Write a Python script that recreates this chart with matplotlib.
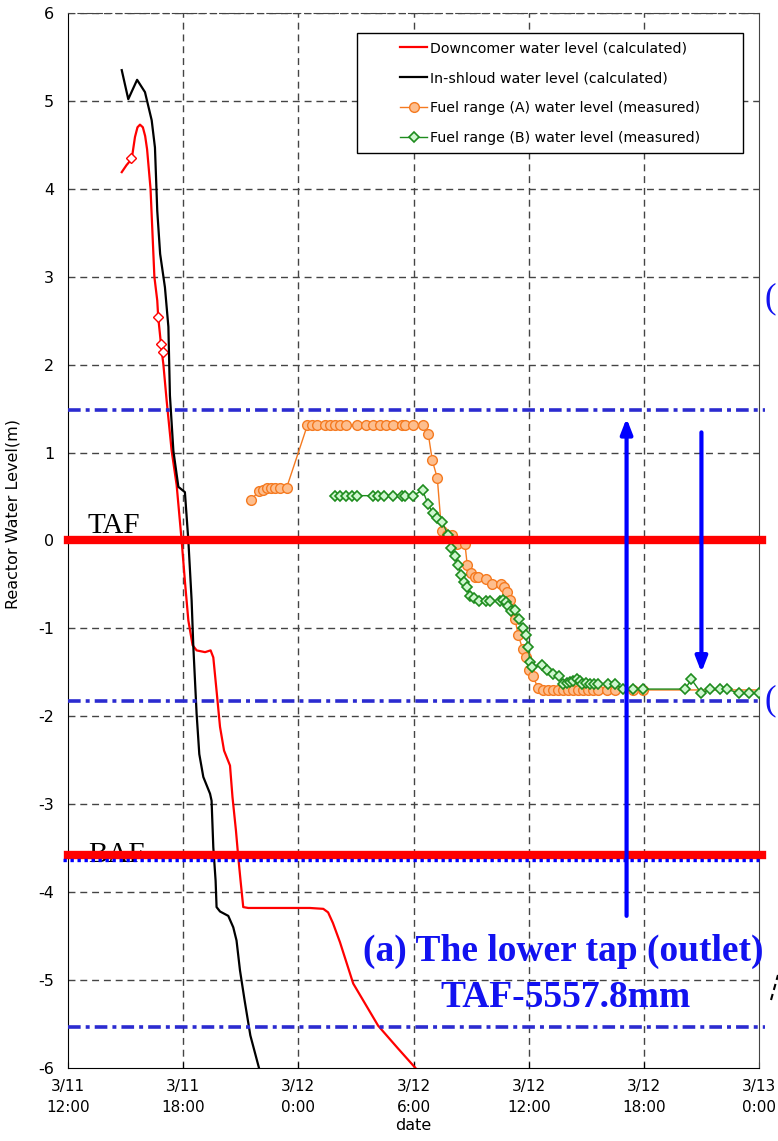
import matplotlib
matplotlib.use("Agg")
import matplotlib.pyplot as plt
from matplotlib.patches import Rectangle
from matplotlib.lines import Line2D

# x values are hours after 3/11 12:00
tick_hours = [0, 6, 12, 18, 24, 30, 36]
tick_labels = ["3/11\n12:00", "3/11\n18:00", "3/12\n0:00", "3/12\n6:00",
               "3/12\n12:00", "3/12\n18:00", "3/13\n0:00"]

# downcomer water level (calculated)
down_h = [2.8, 3.05, 3.32, 3.49, 3.62, 3.75, 3.9, 4.02, 4.12, 4.22, 4.3, 4.5, 4.65,
          4.7, 4.84, 4.97,
          5.14, 5.4, 5.66, 5.92, 6.09, 6.27, 6.49, 6.7, 7.14, 7.43, 7.57, 7.74,
          7.92, 8.13, 8.44, 8.57, 8.75, 8.87, 8.99, 9.13, 9.39, 12.6, 13.3, 13.55, 13.8,
          14.17, 14.86, 16.16, 17.2, 18.1]
down_v = [4.19, 4.27, 4.34, 4.59, 4.70, 4.73, 4.70, 4.6, 4.45, 4.2, 4.0, 3.0, 2.73,
          2.54, 2.24, 2.0,
          1.59, 1.02, 0.63, 0.0, -0.46, -0.91, -1.19, -1.25, -1.27, -1.25, -1.33, -1.71,
          -2.12, -2.39, -2.56, -2.92, -3.3, -3.6, -3.87, -4.17, -4.18, -4.18, -4.19, -4.23, -4.35,
          -4.57, -5.04, -5.52, -5.78, -6.0]

# extra red diamond points on the downcomer curve
dmark_h = [3.28, 4.7, 4.84, 4.93]
dmark_v = [4.35, 2.54, 2.24, 2.14]

# in-shroud water level (calculated)
shroud_h = [2.8, 3.14, 3.6, 4.01, 4.36, 4.53, 4.65, 4.8, 5.05, 5.23, 5.31, 5.49,
            5.75, 6.09, 6.27, 6.44, 6.53, 6.7, 6.84, 7.05, 7.4, 7.48, 7.57, 7.69,
            7.74, 7.92, 8.35, 8.61, 8.78, 8.96, 9.2, 9.5, 9.95]
shroud_v = [5.35, 5.02, 5.24, 5.10, 4.78, 4.47, 3.75, 3.26, 2.88, 2.43, 1.65, 1.02,
            0.61, 0.55, 0.0, -0.68, -1.21, -1.97, -2.43, -2.69, -2.88, -2.96, -3.49, -3.87,
            -4.17, -4.22, -4.27, -4.4, -4.55, -4.89, -5.23, -5.63, -6.0]

# fuel range (A) water level (measured)
fa_h = [9.51, 9.96, 10.17, 10.35, 10.56, 10.78, 11.04, 11.39,
        12.47, 12.69, 12.98, 13.39, 13.65, 13.91, 14.17, 14.48, 15.07, 15.52, 15.9,
        16.25, 16.56, 16.91, 17.38, 17.55, 17.95, 18.5,
        18.77, 18.98, 19.24, 19.46, 19.72, 19.98, 20.28, 20.68, 20.8, 20.97, 21.2,
        21.37, 21.77, 22.07, 22.54, 22.71, 22.85, 23.02, 23.28, 23.46, 23.68, 23.84,
        24.03, 24.2, 24.5, 24.76, 25.02, 25.28, 25.54, 25.8, 26.06, 26.32, 26.58,
        26.84, 27.1, 27.36, 27.62, 28.1, 28.5, 29.45, 29.97, 36.0]
fa_v = [0.46, 0.56, 0.57, 0.6, 0.6, 0.6, 0.6, 0.6,
        1.31, 1.31, 1.31, 1.31, 1.31, 1.31, 1.31, 1.31, 1.31, 1.31, 1.31,
        1.31, 1.31, 1.31, 1.31, 1.31, 1.31, 1.31,
        1.21, 0.91, 0.71, 0.11, 0.06, 0.06, -0.04, -0.04, -0.28, -0.37, -0.42,
        -0.41, -0.44, -0.49, -0.49, -0.53, -0.59, -0.68, -0.89, -1.08, -1.23, -1.33,
        -1.47, -1.54, -1.68, -1.7, -1.7, -1.7, -1.7, -1.7, -1.7, -1.7, -1.7,
        -1.7, -1.7, -1.7, -1.7, -1.7, -1.7, -1.7, -1.7, -1.7]

# fuel range (B) water level (measured)
fb_h = [13.91, 14.17, 14.48, 14.78, 15.07, 15.9, 16.17, 16.46, 16.91, 17.38, 17.55,
        17.95, 18.47, 18.77, 19.0, 19.24, 19.5, 19.8, 19.95, 20.16, 20.33, 20.47,
        20.63, 20.8, 20.94, 21.15, 21.4, 21.77, 22.0, 22.5, 22.67, 22.8, 22.93, 23.1,
        23.28, 23.5, 23.68, 23.84, 23.98, 24.06, 24.18, 24.67, 24.93, 25.28, 25.6,
        25.8, 26.0, 26.15, 26.3, 26.5, 26.65, 26.8, 27.0, 27.2, 27.4, 27.6, 28.14,
        28.5, 28.92, 29.45, 29.97, 32.14, 32.48, 33.0, 33.47, 33.96, 34.34, 34.96,
        35.48, 36.0]
fb_v = [0.51, 0.51, 0.51, 0.51, 0.51, 0.51, 0.51, 0.51, 0.51, 0.51, 0.51,
        0.51, 0.57, 0.41, 0.31, 0.26, 0.21, 0.06, -0.09, -0.18, -0.28, -0.39,
        -0.47, -0.53, -0.63, -0.65, -0.69, -0.69, -0.69, -0.69, -0.68, -0.7, -0.75, -0.8,
        -0.79, -0.89, -0.99, -1.08, -1.21, -1.38, -1.44, -1.42, -1.47, -1.52, -1.54,
        -1.63, -1.62, -1.61, -1.6, -1.57, -1.6, -1.63, -1.62, -1.63, -1.63, -1.63, -1.63,
        -1.63, -1.69, -1.69, -1.69, -1.69, -1.58, -1.74, -1.69, -1.69, -1.69, -1.74,
        -1.74, -1.74]

# reference levels (m, relative to TAF)
TAF = 0.0
BAF = -3.58
upper_tap = 1.48
mid_tap = -1.83
baf_dot = -3.64
lower_tap = -5.53

fig = plt.figure(figsize=(7.78, 11.41), dpi=100)
ax = fig.add_axes([0.0874, 0.064, 0.8882, 0.9246])

grid_kw = dict(color="#444444", lw=1, ls=(0, (5, 3.5)))
for h in tick_hours[1:-1]:
    ax.axvline(h, zorder=0, **grid_kw)
for v in range(-5, 7):
    ax.axhline(v, zorder=0, **grid_kw)

ax.plot(down_h, down_v, color="red", lw=1.6, zorder=3,
        label="Downcomer water level (calculated)")
ax.plot(dmark_h, dmark_v, ls="none", marker="D", ms=5, mfc="white", mec="red",
        mew=1, zorder=3)
ax.plot(shroud_h, shroud_v, color="black", lw=1.6, zorder=3,
        label="In-shloud water level (calculated)")
ax.plot(fa_h, fa_v, color="#F57A20", lw=1, marker="o", ms=7, mfc="#FDBE8E",
        mec="#F57A20", mew=1, markevery=list(range(len(fa_h) - 1)), zorder=3,
        label="Fuel range (A) water level (measured)")
ax.plot(fb_h, fb_v, color="#1E8C1E", lw=1, marker="D", ms=5.5, mfc="#CFF7CF",
        mec="#1E8C1E", mew=1.2, zorder=3,
        label="Fuel range (B) water level (measured)")

# thick red TAF / BAF lines
ax.axhline(TAF, xmax=1.005, color="red", lw=6, zorder=4, clip_on=False)
ax.axhline(BAF, xmax=1.005, color="red", lw=6, zorder=4, clip_on=False)

# blue tap lines
dashdot = (0, (3.5, 1.4, 1.1, 1.4))
ax.axhline(upper_tap, xmax=1.009, color="#2b2bd0", lw=2.6, ls=dashdot, zorder=4, clip_on=False)
ax.axhline(mid_tap, xmax=1.005, color="#2b2bd0", lw=2.6, ls=dashdot, zorder=4, clip_on=False)
ax.axhline(lower_tap, xmax=1.009, color="#2b2bd0", lw=2.6, ls=dashdot, zorder=4, clip_on=False)
ax.axhline(baf_dot, xmin=-0.007, color="#0000ff", lw=2.4, ls=(0, (1, 1.1)), zorder=4, clip_on=False)

# arrows
arrow_kw = dict(arrowstyle="-|>,head_length=0.9,head_width=0.35", color="#0000ff", lw=3,
                shrinkA=0, shrinkB=0)
ax.annotate("", xy=(29.1, 1.39), xytext=(29.1, -4.27), arrowprops=arrow_kw, zorder=5)
ax.annotate("", xy=(33.0, -1.5), xytext=(33.0, 1.23), arrowprops=arrow_kw, zorder=5)

serif = "Liberation Serif"
ax.text(1.04, 0.09, "TAF", family=serif, fontsize=21, va="baseline", zorder=3)
ax.text(1.04, -3.66, "BAF", family=serif, fontsize=21, va="baseline", zorder=3)
ax.text(25.8, -4.68, "(a) The lower tap (outlet)", family=serif, fontsize=27,
        fontweight="bold", color="#1212f0", ha="center", va="center", zorder=6)
ax.text(25.9, -5.2, "TAF-5557.8mm", family=serif, fontsize=27,
        fontweight="bold", color="#1212f0", ha="center", va="center", zorder=6)
ax.text(36.3, 2.75, "(", family=serif, fontsize=25, color="#1212f0",
        ha="left", va="center", clip_on=False)
ax.text(36.3, -1.82, "(", family=serif, fontsize=25, color="#1212f0",
        ha="left", va="center", clip_on=False)
fig.add_artist(Line2D([771 / 778, 778 / 778], [1 - 1000 / 1141, 1 - 975 / 1141],
                      color="black", lw=1.5, ls=(0, (3, 2))))

# legend with its own box
box = Rectangle((0.418, 0.867), 0.559, 0.114, transform=ax.transAxes,
                facecolor="white", edgecolor="black", lw=1, zorder=5)
ax.add_patch(box)
leg = ax.legend(loc="center", bbox_to_anchor=(0.6975, 0.924), frameon=False,
                fontsize=10.2, handlelength=1.9, handletextpad=0.2, labelspacing=1.12)
leg.set_zorder(6)

ax.set_xlim(0, 36)
ax.set_ylim(-6, 6)
ax.set_xticks(tick_hours)
ax.set_xticklabels(tick_labels, fontsize=11, linespacing=1.5)
ax.set_yticks(range(-6, 7))
ax.set_yticklabels([str(v) for v in range(-6, 7)], fontsize=11.5)
ax.tick_params(direction="in", length=4, pad=8)
ax.tick_params(axis="y", length=0, pad=10)
ax.set_xlabel("date", fontsize=11.5, labelpad=2)
ax.set_ylabel("Reactor Water Level(m)", fontsize=11.5)
ax.yaxis.set_label_coords(-0.069, 0.525)
for side in ["top", "right"]:
    ax.spines[side].set_color("#444444")
ax.spines["top"].set_linestyle((0, (5, 3.5)))

fig.savefig("out.png", dpi=100)
